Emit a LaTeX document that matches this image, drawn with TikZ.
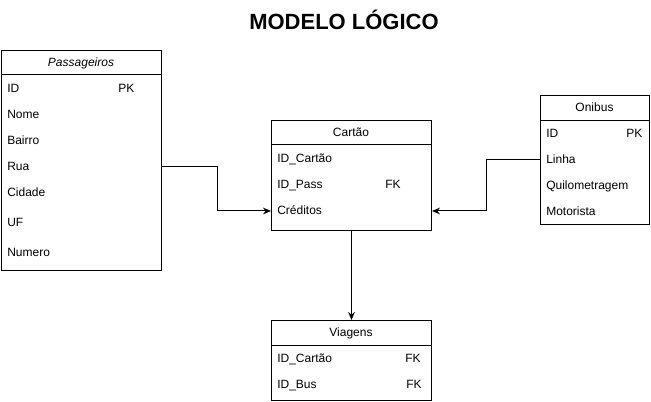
\documentclass[tikz,border=0pt]{standalone}
\usepackage{fontspec}
\setmainfont{Liberation Sans}
\usetikzlibrary{arrows.meta}

\tikzset{
  tabela/.style={draw, line width=0.75pt, anchor=north west, inner sep=0pt},
  campo/.style={anchor=west, inner sep=0pt, text height=6.8pt, text depth=1.9pt, font=\fontsize{9}{11}\selectfont},
  liga/.style={-{Stealth[length=6pt,width=5pt]}, line width=0.75pt}
}

\begin{document}
\begin{tikzpicture}[x=0.75pt,y=-0.75pt]
      \useasboundingbox (0,0) rectangle (651,402);
      \node[font=\bfseries\fontsize{16.5}{20}\selectfont] (titulo) at (344,20) {MODELO LÓGICO};
      % Passageiros
      \node[tabela, minimum width=120pt, minimum height=165pt] (pass) at (1,50) {};
      \node[campo, anchor=center, font=\itshape\fontsize{9}{11}\selectfont] (passT) at (81,63) {Passageiros};
      \draw[line width=0.75pt] (pass.north west |- 0,75) -- (pass.north east |- 0,75);
      \foreach \t/\y [count=\i] in {ID/89, Nome/115, Bairro/141, Rua/167, Cidade/193, UF/223, Numero/253}
        \node[campo] (p\i) at (7,\y) {\t};
      \node[campo] (pPK) at (118,89) {PK};
      % Cartao
      \node[tabela, minimum width=120pt, minimum height=82.5pt] (cartao) at (271,120) {};
      \node[campo, anchor=center] (cartaoT) at (351,133) {Cartão};
      \draw[line width=0.75pt] (cartao.north west |- 0,145) -- (cartao.north east |- 0,145);
      \foreach \t/\y [count=\i] in {ID\_Cartão/159, ID\_Pass/185, Créditos/211}
        \node[campo] (c\i) at (277,\y) {\t};
      \node[campo] (cFK) at (385,185) {FK};
      % Onibus
      \node[tabela, minimum width=81.75pt, minimum height=96.75pt] (onibus) at (540,95) {};
      \node[campo, anchor=center] (onibusT) at (594.5,108) {Onibus};
      \draw[line width=0.75pt] (onibus.north west |- 0,121) -- (onibus.north east |- 0,121);
      \foreach \t/\y [count=\i] in {ID/134, Linha/160, Quilometragem/186, Motorista/212}
        \node[campo] (o\i) at (546,\y) {\t};
      \node[campo] (oPK) at (626,134) {PK};
      % Viagens
      \node[tabela, minimum width=120pt, minimum height=60pt] (viagens) at (271,320) {};
      \node[campo, anchor=center] (viagensT) at (351,333) {Viagens};
      \draw[line width=0.75pt] (viagens.north west |- 0,346) -- (viagens.north east |- 0,346);
      \foreach \t/\y [count=\i] in {ID\_Cartão/359, ID\_Bus/385}
        \node[campo] (v\i) at (277,\y) {\t};
      \node[campo] (vFK1) at (405,359) {FK};
      \node[campo] (vFK2) at (406,385) {FK};
      % ligacoes
      \draw[liga] (p4 -| pass.east) -- ++(55,0) |- (c3 -| cartao.west);
      \draw[liga] (o2 -| onibus.west) -- ++(-54,0) |- (c3 -| cartao.east);
      \draw[liga] (cartao.south) -- (viagens.north);
    \end{tikzpicture}
\end{document}
